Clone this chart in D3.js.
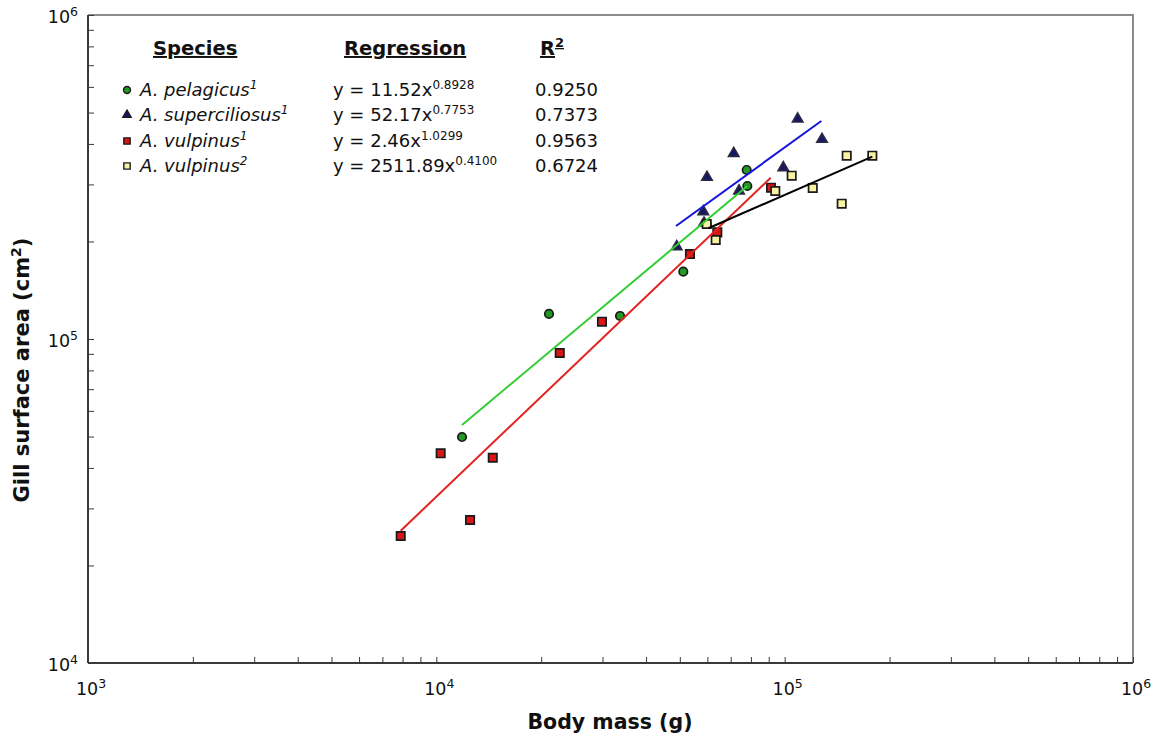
<!DOCTYPE html>
<html>
<head>
<meta charset="utf-8">
<script src="https://cdn.jsdelivr.net/npm/d3@7"></script>
<style>
  html, body { margin: 0; padding: 0; background: #fff; }
  svg { display: block; font-family: "DejaVu Sans", Verdana, sans-serif; }
</style>
</head>
<body>
<svg id="chart" width="1165" height="738"></svg>
<script>
// ---- Data ----
const xTickExponents = [3, 4, 5, 6];
const yTickExponents = [4, 5, 6];

const pelagicusX = [11850, 21060, 33680, 51170, 77800, 78130, 59740];
const pelagicusY = [49830, 119500, 117800, 161350, 332400, 296700, 226400];

const superciliosusX = [109000, 128000, 71400, 59840, 99100, 73950, 58400, 48980, 58680];
const superciliosusY = [477500, 413400, 374200, 315600, 337900, 286300, 247100, 192700, 228000];

const vulpinus1X = [7902, 12500, 10290, 14520, 22610, 29890, 53470, 64060, 91380];
const vulpinus1Y = [24660, 27630, 44380, 43010, 90530, 113100, 182900, 213400, 293100];

const vulpinus2X = [59740, 63390, 93990, 104760, 120400, 145800, 150700, 178500];
const vulpinus2Y = [226400, 202100, 286300, 319200, 292400, 261600, 367900, 367900];

// regression line end points
const pelagicusFitX = [11850, 78130];
const pelagicusFitY = [54270, 296700];
const superciliosusFitX = [48760, 127400];
const superciliosusFitY = [223300, 470800];
const vulpinus1FitX = [7902, 91190];
const vulpinus1FitY = [25600, 314600];
const vulpinus2FitX = [60380, 178500];
const vulpinus2FitY = [219700, 365300];

const legendSpecies = ["A. pelagicus", "A. superciliosus", "A. vulpinus", "A. vulpinus"];
const legendSup = ["1", "1", "1", "2"];
const legendEqBase = ["y = 11.52x", "y = 52.17x", "y = 2.46x", "y = 2511.89x"];
const legendEqExp = ["0.8928", "0.7753", "1.0299", "0.4100"];
const legendR2 = ["0.9250", "0.7373", "0.9563", "0.6724"];

// ---- Layout ----
const svg = d3.select("#chart");
const L = 88, R = 1133, T = 15, B = 663;

const x = d3.scaleLog().domain([1e3, 1e6]).range([L, R]);
const y = d3.scaleLog().domain([1e4, 1e6]).range([B, T]);

// frame top/right (gray)
svg.append("path")
  .attr("d", `M${L},${T}H${R}V${B}`)
  .attr("fill", "none").attr("stroke", "#8c8c8c").attr("stroke-width", 2);

// minor/major ticks (inside)
const xTicks = x.ticks();
const yTicks = y.ticks();
const xAxis = d3.axisBottom(x).tickValues(xTicks).tickSize(-6).tickFormat("");
const yAxis = d3.axisLeft(y).tickValues(yTicks).tickSize(-6).tickFormat("");
const gx = svg.append("g").attr("transform", `translate(0,${B})`).call(xAxis);
const gy = svg.append("g").attr("transform", `translate(${L},0)`).call(yAxis);
[gx, gy].forEach(g => {
  g.select(".domain").attr("stroke", "#3a3a3a").attr("stroke-width", 2);
  g.selectAll(".tick line").attr("stroke", "#3a3a3a").attr("stroke-width", 1);
});
gx.select(".domain").attr("d", `M${L},0H${R}`);
gy.select(".domain").attr("d", `M0,${B}V${T}`);

// tick labels with superscript
const xl = svg.append("g").selectAll("text").data(xTickExponents).join("text")
  .attr("x", d => x(Math.pow(10, d)) + 3).attr("y", B + 32)
  .attr("text-anchor", "middle").attr("font-size", 17.5).attr("fill", "#111");
xl.append("tspan").text("10");
xl.append("tspan").attr("font-size", 12.5).attr("dy", -7).text(d => d);

const yl = svg.append("g").selectAll("text").data(yTickExponents).join("text")
  .attr("x", L - 10).attr("y", d => y(Math.pow(10, d)) + 8)
  .attr("text-anchor", "end").attr("font-size", 17.5).attr("fill", "#111");
yl.append("tspan").text("10");
yl.append("tspan").attr("font-size", 12.5).attr("dy", -7).text(d => d);

// axis titles
svg.append("text").attr("x", 610).attr("y", 729).attr("text-anchor", "middle")
  .attr("font-size", 20.5).attr("font-weight", "bold").attr("fill", "#111")
  .text("Body mass (g)");
const yt = svg.append("text").attr("transform", "translate(29,370) rotate(-90)")
  .attr("text-anchor", "middle").attr("font-size", 21).attr("font-weight", "bold").attr("fill", "#111");
yt.append("tspan").text("Gill surface area (cm");
yt.append("tspan").attr("font-size", 14).attr("dy", -8).text("2");
yt.append("tspan").attr("dy", 8).text(")");

// ---- marks ----
const series = [
  {xs: pelagicusX, ys: pelagicusY, shape: "circle", fill: "#219a21"},
  {xs: superciliosusX, ys: superciliosusY, shape: "triangle", fill: "#15156b"},
  {xs: vulpinus1X, ys: vulpinus1Y, shape: "square", fill: "#dc1414"},
  {xs: vulpinus2X, ys: vulpinus2Y, shape: "square", fill: "#f8f3a2"}
];
const fits = [
  {xs: pelagicusFitX, ys: pelagicusFitY, color: "#33cc33"},
  {xs: superciliosusFitX, ys: superciliosusFitY, color: "#1414dc"},
  {xs: vulpinus1FitX, ys: vulpinus1FitY, color: "#e42222"},
  {xs: vulpinus2FitX, ys: vulpinus2FitY, color: "#000000"}
];

function symbolPath(shape, size) {
  const t = shape === "circle" ? d3.symbolCircle : shape === "triangle" ? d3.symbolTriangle : d3.symbolSquare;
  return d3.symbol().type(t).size(size)();
}
const markSize = {circle: 56, triangle: 46, square: 70};

const pts = svg.append("g");
series.forEach(s => {
  pts.append("g").selectAll("path").data(s.xs.map((v, i) => [v, s.ys[i]])).join("path")
    .attr("d", symbolPath(s.shape, markSize[s.shape]))
    .attr("transform", d => `translate(${x(d[0])},${y(d[1])})`)
    .attr("fill", s.fill).attr("stroke", s.shape === "triangle" ? "#2a2a40" : "#1a1a1a")
    .attr("stroke-width", 1.7);
});

const line = d3.line().x(d => x(d[0])).y(d => y(d[1]));
fits.forEach(f => {
  svg.append("path").datum(f.xs.map((v, i) => [v, f.ys[i]]))
    .attr("d", line).attr("fill", "none").attr("stroke", f.color).attr("stroke-width", 2);
});

// ---- legend ----
const lg = svg.append("g").attr("fill", "#111");
const hdrY = 55;
function header(xp, txt, sup) {
  const t = lg.append("text").attr("x", xp).attr("y", hdrY).attr("font-size", 19.5)
    .attr("font-weight", "bold").attr("text-decoration", "underline");
  t.append("tspan").text(txt);
  if (sup) t.append("tspan").attr("font-size", 13).attr("dy", -8).text(sup);
  return t;
}
header(153, "Species");
header(344, "Regression");
header(540, "R", "2");

const rowY = [90, 115, 141, 166];
series.forEach((s, i) => {
  lg.append("path").attr("d", symbolPath(s.shape, s.shape === "circle" ? 38 : s.shape === "triangle" ? 30 : 40))
    .attr("transform", `translate(127,${rowY[i]})`)
    .attr("fill", s.fill).attr("stroke", "#1a1a1a").attr("stroke-width", 1.4);
  const t1 = lg.append("text").attr("x", 140).attr("y", rowY[i] + 6).attr("font-size", 18)
    .attr("font-style", "italic");
  t1.append("tspan").text(legendSpecies[i]);
  t1.append("tspan").attr("font-size", 12).attr("dy", -7).text(legendSup[i]);
  const t2 = lg.append("text").attr("x", 333).attr("y", rowY[i] + 6).attr("font-size", 18);
  t2.append("tspan").text(legendEqBase[i]);
  t2.append("tspan").attr("font-size", 12).attr("dy", -7).text(legendEqExp[i]);
  lg.append("text").attr("x", 535).attr("y", rowY[i] + 6).attr("font-size", 18).text(legendR2[i]);
});
</script>
</body>
</html>
